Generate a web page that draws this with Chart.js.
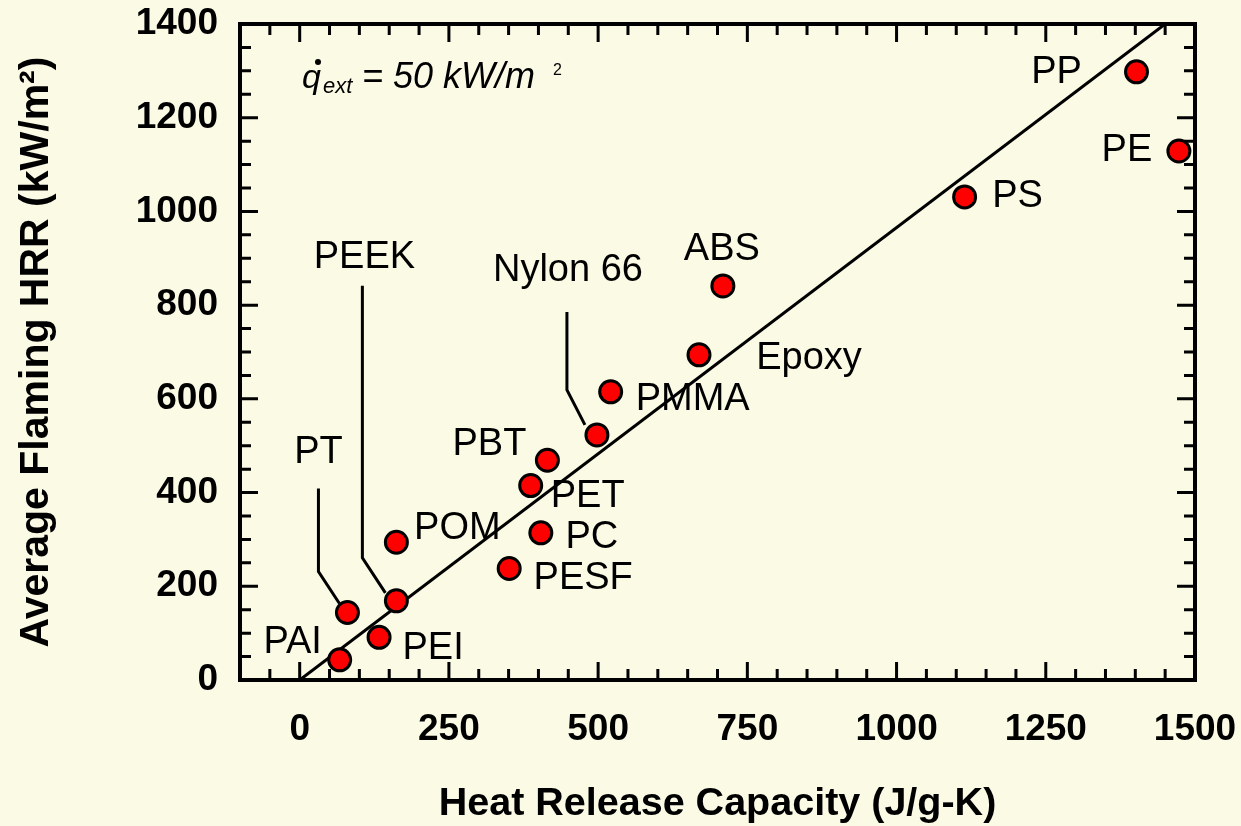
<!DOCTYPE html>
<html>
<head>
<meta charset="utf-8">
<script src="https://cdn.jsdelivr.net/npm/chart.js@4.4.1/dist/chart.umd.min.js"></script>
<style>
    body { margin: 0; background: #FBFAE4; }
    #wrap { width: 1241px; height: 826px; }
</style>
</head>
<body>
<div id="wrap"><canvas id="hrrChart" width="1241" height="826"></canvas></div>
<script>
// data
const materials = ['PAI', 'PT', 'PEEK', 'PEI', 'POM', 'PESF', 'PC', 'PET', 'PBT', 'Nylon 66', 'PMMA', 'Epoxy', 'ABS', 'PS', 'PP', 'PE'];
const heatReleaseCapacity = [67, 80, 162, 133, 162, 351, 404, 387, 415, 498, 521, 669, 709, 1114, 1402, 1473];
const avgFlamingHRR = [43, 144, 169, 91, 294, 238, 314, 415, 469, 523, 615, 694, 841, 1031, 1298, 1129];
const fitX = [0, 1450];
const fitY = [0, 1400];
const xTicks = [0, 250, 500, 750, 1000, 1250, 1500];
const yTicks = [0, 200, 400, 600, 800, 1000, 1200, 1400];

// label placement (pixel offset from the point) and leader lines
const labelOffsets = {
    'PAI': [-47, -17], 'PT': [-29, -160], 'PEEK': [-32, -343], 'PEI': [54, 11],
    'POM': [61, -14], 'PESF': [74, 10], 'PC': [51, 5], 'PET': [57, 11],
    'PBT': [-58, -16], 'Nylon 66': [-29, -164], 'PMMA': [82, 8], 'Epoxy': [110, 4],
    'ABS': [-1, -36], 'PS': [53, 0], 'PP': [-80, 1], 'PE': [-52, 0]
};
const leaders = {
    'PT': [[-29, -124], [-29, -41], [-8, -9]],
    'PEEK': [[-34, -315], [-34, -43], [-11, -8]],
    'Nylon 66': [[-30, -123], [-30, -45], [-12, -10]]
};

const FONT = '"Liberation Sans", Arial, sans-serif';

const frameTicks = {
    id: 'frameTicks',
    beforeDatasetsDraw(chart) {
        const ctx = chart.ctx;
        const a = chart.chartArea;
        const xs = chart.scales.x, ys = chart.scales.y;
        ctx.save();
        ctx.strokeStyle = '#000';
        ctx.lineWidth = 3;
        for (let v = -50; v < 1500; v += 50) {
            const px = xs.getPixelForValue(v);
            const len = v % 250 === 0 ? 18 : 11;
            ctx.beginPath();
            ctx.moveTo(px, a.bottom); ctx.lineTo(px, a.bottom - len);
            ctx.moveTo(px, a.top); ctx.lineTo(px, a.top + len);
            ctx.stroke();
        }
        for (let v = 50; v < 1400; v += 50) {
            const py = ys.getPixelForValue(v);
            const len = v % 200 === 0 ? 18 : 11;
            ctx.beginPath();
            ctx.moveTo(a.left, py); ctx.lineTo(a.left + len, py);
            ctx.moveTo(a.right, py); ctx.lineTo(a.right - len, py);
            ctx.stroke();
        }
        ctx.lineWidth = 4;
        ctx.strokeRect(a.left, a.top, a.right - a.left, a.bottom - a.top);

        // leader lines under the markers
        const meta = chart.getDatasetMeta(0);
        ctx.lineWidth = 3;
        materials.forEach((name, i) => {
            const path = leaders[name];
            if (!path) return;
            const pt = meta.data[i];
            ctx.beginPath();
            path.forEach(([dx, dy], k) => {
                if (k === 0) ctx.moveTo(pt.x + dx, pt.y + dy);
                else ctx.lineTo(pt.x + dx, pt.y + dy);
            });
            ctx.stroke();
        });
        ctx.restore();
    },
    afterDatasetsDraw(chart) {
        const ctx = chart.ctx;
        const a = chart.chartArea;
        const meta = chart.getDatasetMeta(0);
        ctx.save();
        ctx.fillStyle = '#000';
        ctx.font = '38px ' + FONT;
        ctx.textAlign = 'center';
        ctx.textBaseline = 'middle';
        materials.forEach((name, i) => {
            const pt = meta.data[i];
            const off = labelOffsets[name];
            ctx.fillText(name, pt.x + off[0], pt.y + off[1]);
        });

        // q-dot ext = 50 kW/m 2
        const x0 = a.left + 62, base = a.top + 64;
        ctx.textAlign = 'left';
        ctx.textBaseline = 'alphabetic';
        ctx.font = 'italic 34px ' + FONT;
        ctx.fillText('q', x0, base);
        ctx.beginPath();
        ctx.arc(x0 + 16, base - 26, 3, 0, Math.PI * 2);
        ctx.fill();
        ctx.font = 'italic 22px ' + FONT;
        ctx.fillText('ext', x0 + 21, base + 5);
        ctx.font = 'italic 36px ' + FONT;
        ctx.fillText('= 50 kW/m', x0 + 60, base);
        ctx.font = '16px ' + FONT;
        ctx.fillText('2', x0 + 251, base - 13);
        ctx.restore();
    }
};

function noPad(axis) {
    axis.paddingTop = 0;
    axis.paddingBottom = 0;
    axis.paddingLeft = 0;
    axis.paddingRight = 0;
}

const ctx = document.getElementById('hrrChart').getContext('2d');
const chart = new Chart(ctx, {
    type: 'scatter',
    data: {
        datasets: [{
            label: 'materials',
            data: heatReleaseCapacity.map((x, i) => ({ x: x, y: avgFlamingHRR[i] })),
            backgroundColor: '#FF0000',
            borderColor: '#000000',
            borderWidth: 3,
            pointRadius: 11,
            pointHoverRadius: 11
        }, {
            label: 'fit',
            type: 'line',
            data: fitX.map((x, i) => ({ x: x, y: fitY[i] })),
            borderColor: '#000000',
            borderWidth: 3,
            pointRadius: 0,
            fill: false
        }]
    },
    options: {
        responsive: false,
        devicePixelRatio: 1,
        animation: false,
        layout: { padding: { top: 24, right: 46, left: 0, bottom: 0 } },
        plugins: {
            legend: { display: false },
            tooltip: { enabled: false }
        },
        scales: {
            x: {
                type: 'linear',
                min: -100,
                max: 1500,
                afterBuildTicks: axis => { axis.ticks = xTicks.map(v => ({ value: v })); },
                afterFit: axis => { axis.height = 146; noPad(axis); },
                grid: { display: false, drawTicks: false },
                border: { display: false },
                ticks: {
                    color: '#000',
                    font: { family: FONT, size: 37, weight: 'bold' },
                    padding: 28,
                    maxRotation: 0,
                    autoSkip: false,
                    callback: v => String(v)
                },
                title: {
                    display: true,
                    text: 'Heat Release Capacity (J/g-K)',
                    color: '#000',
                    font: { family: FONT, size: 39.5, weight: 'bold', lineHeight: 1.1 },
                    padding: { top: 0, bottom: 0 }
                }
            },
            y: {
                type: 'linear',
                min: 0,
                max: 1400,
                afterBuildTicks: axis => { axis.ticks = yTicks.map(v => ({ value: v })); },
                afterFit: axis => { axis.width = 240; noPad(axis); },
                grid: { display: false, drawTicks: false },
                border: { display: false },
                ticks: {
                    color: '#000',
                    font: { family: FONT, size: 37, weight: 'bold' },
                    padding: 22,
                    autoSkip: false,
                    callback: v => String(v)
                },
                title: {
                    display: true,
                    text: 'Average Flaming HRR (kW/m²)',
                    color: '#000',
                    font: { family: FONT, size: 41, weight: 'bold', lineHeight: 1.1 },
                    padding: { top: 14, bottom: 0 }
                }
            }
        }
    },
    plugins: [frameTicks]
});
</script>
</body>
</html>
